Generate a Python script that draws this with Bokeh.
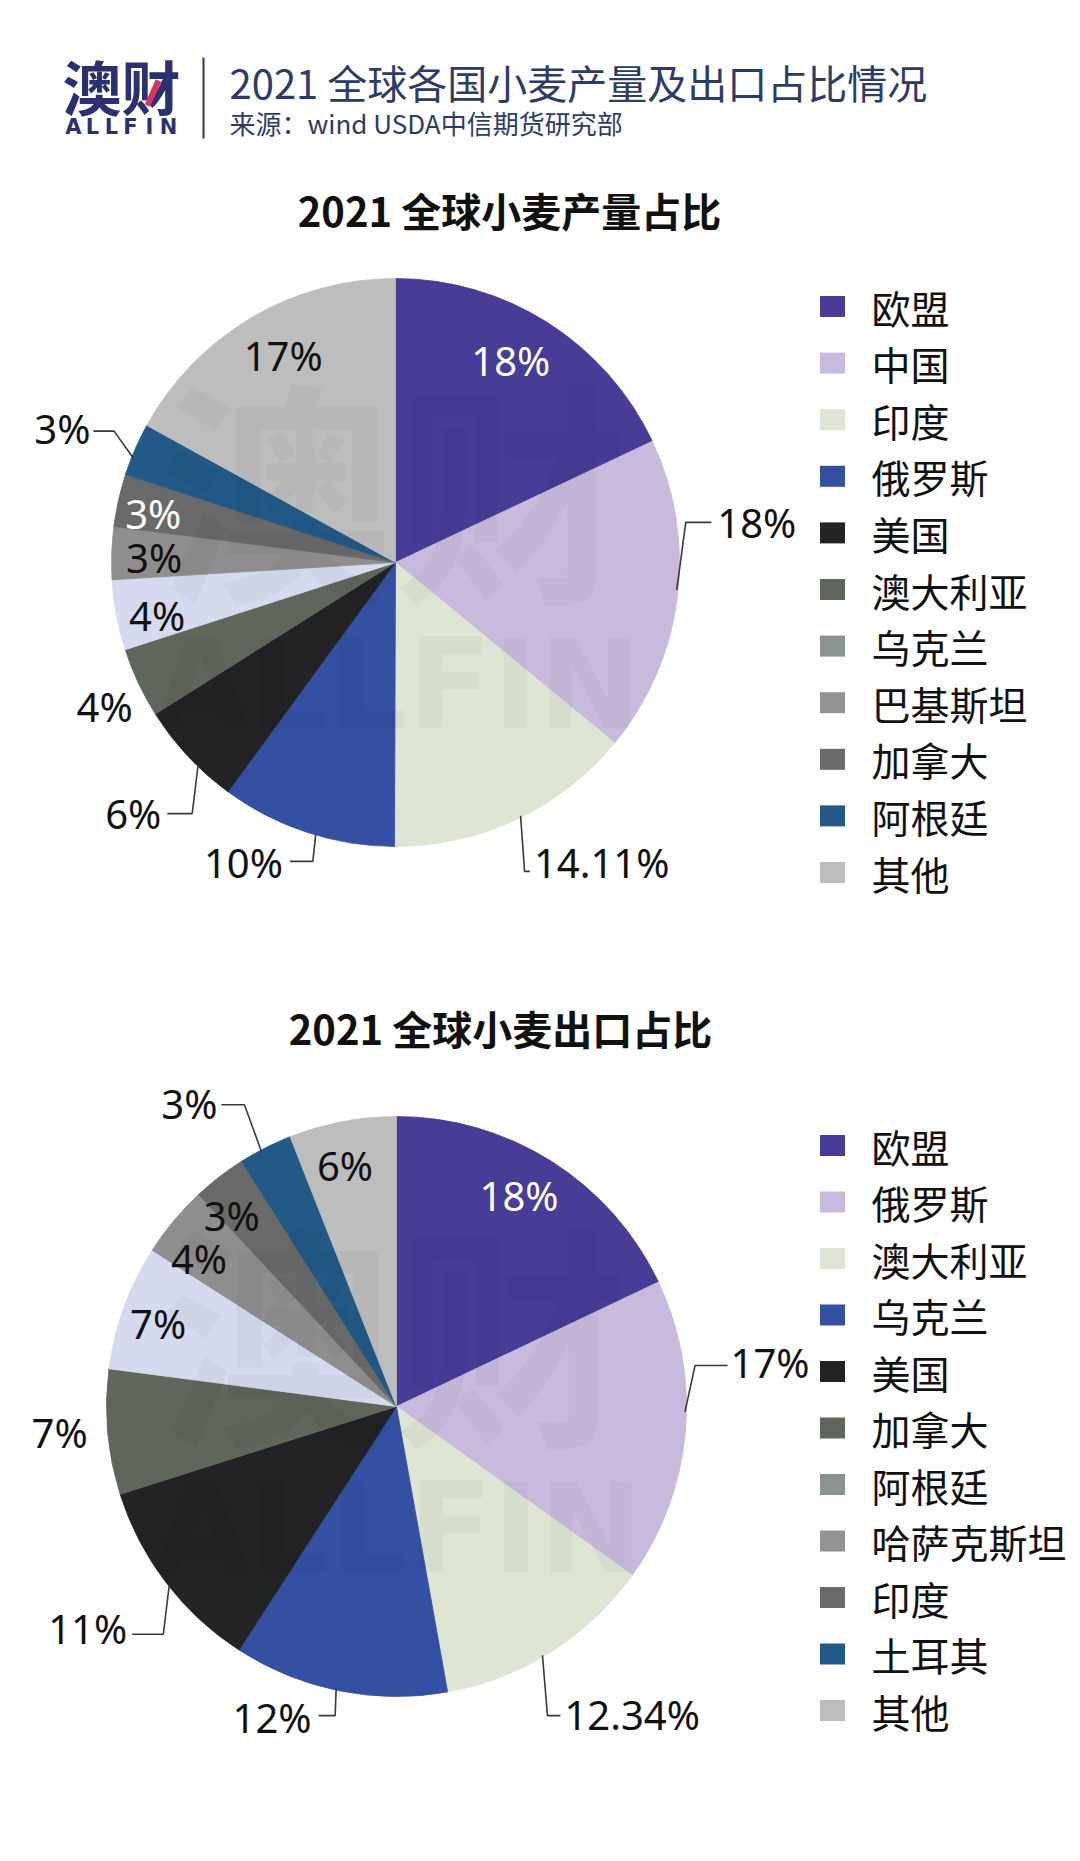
import math
from bokeh.plotting import figure
from bokeh.models import Range1d, ColumnDataSource
from bokeh.core.properties import value
from bokeh.embed import file_html
from bokeh.resources import INLINE

# ---------------- data ----------------
prod_names = ["欧盟", "中国", "印度", "俄罗斯", "美国", "澳大利亚", "乌克兰", "巴基斯坦", "加拿大", "阿根廷", "其他"]
prod_values = [18, 18, 14.11, 10, 6, 4, 4, 3, 3, 3, 17]
prod_labels = ["18%", "18%", "14.11%", "10%", "6%", "4%", "4%", "3%", "3%", "3%", "17%"]

exp_names = ["欧盟", "俄罗斯", "澳大利亚", "乌克兰", "美国", "加拿大", "阿根廷", "哈萨克斯坦", "印度", "土耳其", "其他"]
exp_values = [18, 17, 12.34, 12, 11, 7, 7, 4, 3, 3, 6]
exp_labels = ["18%", "17%", "12.34%", "12%", "11%", "7%", "7%", "4%", "3%", "3%", "6%"]

header_title = "2021 全球各国小麦产量及出口占比情况"
header_source = "来源：wind USDA中信期货研究部"
prod_title = "2021 全球小麦产量占比"
exp_title = "2021 全球小麦出口占比"

# ---------------- styles ----------------
slice_colors = ["#473C96", "#C8BADC", "#DEE5D4", "#3450A2", "#232325", "#5F665B",
                "#D6DAEE", "#8E8E8E", "#6A6A6A", "#235987", "#BDBDBD"]
legend_colors = ["#473C96", "#C8BADC", "#DEE5D4", "#3450A2", "#232325", "#5F665B",
                 "#8A948F", "#939393", "#6A6A6A", "#235987", "#BDBDBD"]
NAVY = "#2B3170"
TITLE_NAVY = "#2D3B68"
CJK = "Noto Sans CJK SC"
NUM = "Noto Sans"

# label layout per slice: kind, angle offset from slice middle, radius factor, align, color, leader
prod_layout = [
    ("in", -2.7, 0.82, "center", "white", None),
    ("out", -14.2, 1.142, "left", "#111111", (-1.5, 9, 0, 6)),
    ("out", 0.4, 1.163, "left", "#111111", (-1.1, 4, 9, 4)),
    ("out", 2.4, 1.128, "right", "#111111", (-1.8, -3, -1, 7)),
    ("out", -3.95, 1.209, "right", "#111111", (-2.65, -6, 0, 6)),
    ("free", -1.3, 1.143, "center", "#111111", None),
    ("in", -1.9, 0.86, "center", "#111111", None),
    ("in", -0.7, 0.85, "center", "#111111", None),
    ("in", -1.3, 0.87, "center", "white", None),
    ("out", 0.3, 1.174, "right", "#111111", (-1.7, -19, 3, 3)),
    ("in", 2.1, 0.83, "center", "#111111", None),
]
exp_layout = [
    ("in", -2.1, 0.84, "center", "white", None),
    ("out", -12.57, 1.162, "left", "#111111", (-4.0, 10, 3, 3)),
    ("out", 3.7, 1.21, "left", "#111111", (1.9, 5, 1, 4)),
    ("out", 3.9, 1.112, "right", "#111111", (0.7, -1, -2, 7)),
    ("out", -2.1, 1.203, "right", "#111111", (-0.7, -6, 6, 5)),
    ("free", 0.7, 1.165, "center", "#111111", None),
    ("in", -0.9, 0.87, "center", "#111111", None),
    ("in", -3.0, 0.85, "center", "#111111", None),
    ("in", -3.1, 0.87, "center", "#111111", None),
    ("out", -3.7, 1.213, "right", "#111111", (-1.0, -17, 1, 4)),
    ("in", -1.3, 0.85, "center", "#111111", None),
]

W, H = 1072, 1853
p = figure(width=W, height=H, x_range=Range1d(0, W), y_range=Range1d(-H, 0),
           output_backend="svg", toolbar_location=None, min_border=0)
p.axis.visible = False
p.grid.visible = False
p.outline_line_color = None
p.background_fill_color = "white"
p.border_fill_color = "white"


def polar(cx, cy, ang, r):
    a = math.radians(ang)
    return cx + r * math.sin(a), cy - r * math.cos(a)


def draw_pie(cx, cy, R, values, labels, colors, layout):
    total = float(sum(values))
    starts, ends, mids = [], [], []
    cum = 0.0
    for v in values:
        a0 = cum / total * 360.0
        cum += v
        a1 = cum / total * 360.0
        starts.append(math.radians(90 - a1))
        ends.append(math.radians(90 - a0))
        mids.append((a0 + a1) / 2.0)
    src = ColumnDataSource(dict(x=[cx] * len(values), y=[-cy] * len(values),
                                s=starts, e=ends, c=colors))
    p.wedge(x="x", y="y", radius=R, start_angle="s", end_angle="e",
            fill_color="c", line_color="c", line_width=0.8, source=src)

    # faint watermark
    p.text(x=[cx - 2], y=[-(cy - 80)], text=["澳财"], text_font=value(CJK),
           text_font_style="bold", text_font_size="235px", text_align="center",
           text_baseline="middle", text_color="#000000", text_alpha=0.03)
    p.text(x=[cx + 2], y=[-(cy + 122)], text=["ALLFIN"], text_font=value("DejaVu Sans"),
           text_font_style="bold", text_font_size="124px", text_align="center",
           text_baseline="middle", text_color="#000000", text_alpha=0.03)

    groups = {}
    lxs, lys = [], []
    for i, (kind, off, rf, align, col, leader) in enumerate(layout):
        tx, ty = polar(cx, cy, mids[i] + off, R * rf)
        key = (align, col)
        g = groups.setdefault(key, dict(x=[], y=[], t=[]))
        g["x"].append(tx)
        g["y"].append(-ty)
        g["t"].append(labels[i])
        if leader is not None:
            a_off, bx, by, gap = leader
            ax, ay = polar(cx, cy, mids[i] + a_off, R * 0.995)
            bxp, byp = ax + bx, ty + by
            if align == "left":
                ex = tx - gap
            else:
                ex = tx + gap
            lxs.append([ax, bxp, ex])
            lys.append([-ay, -byp, -byp])
    p.multi_line(xs=lxs, ys=lys, line_color="#3A3A3A", line_width=1.6)
    for (align, col), g in groups.items():
        p.text(x=g["x"], y=g["y"], text=g["t"], text_font=value(NUM),
               text_font_size="40px", text_align=align, text_baseline="middle",
               text_color=col)


def draw_legend(names, colors, y0, step):
    ys = [-(y0 + i * step) for i in range(len(names))]
    p.rect(x=[832] * len(names), y=ys, width=25, height=21, fill_color=colors, line_color=None)
    p.text(x=[871] * len(names), y=ys, text=names, text_font=value(CJK),
           text_font_size="39px", text_align="left", text_baseline="middle", text_color="#111111")


# ---------------- header ----------------
p.text(x=[121], y=[-85], text=["澳财"], text_font=value(CJK), text_font_style="bold",
       text_font_size="59px", text_align="center", text_baseline="middle", text_color=NAVY)
p.segment(x0=[158], y0=[-80], x1=[147], y1=[-105], line_color="#D8345F", line_width=6)
letters = list("ALLFIN")
p.text(x=[73 + 19 * i for i in range(len(letters))], y=[-126] * len(letters), text=letters,
       text_font=value("DejaVu Sans"), text_font_style="bold", text_font_size="21px",
       text_align="center", text_baseline="middle", text_color=NAVY)
p.segment(x0=[203], y0=[-57], x1=[203], y1=[-138], line_color=NAVY, line_width=2)
p.text(x=[229], y=[-81], text=[header_title], text_font=value(CJK), text_font_size="40px",
       text_align="left", text_baseline="middle", text_color=TITLE_NAVY)
p.text(x=[229], y=[-122], text=[header_source], text_font=value(CJK), text_font_size="26px",
       text_align="left", text_baseline="middle", text_color=TITLE_NAVY)

# ---------------- section titles ----------------
p.text(x=[509], y=[-209], text=[prod_title], text_font=value(CJK), text_font_style="bold",
       text_font_size="40px", text_align="center", text_baseline="middle", text_color="#111111")
p.text(x=[500], y=[-1027], text=[exp_title], text_font=value(CJK), text_font_style="bold",
       text_font_size="40px", text_align="center", text_baseline="middle", text_color="#111111")

# ---------------- pies & legends ----------------
draw_pie(395, 562, 284, prod_values, prod_labels, slice_colors, prod_layout)
draw_pie(396, 1406, 290, exp_values, exp_labels, slice_colors, exp_layout)
draw_legend(prod_names, legend_colors, 306, 56.6)
draw_legend(exp_names, legend_colors, 1145, 56.5)

open("out.html", "w").write(file_html(p, INLINE))
